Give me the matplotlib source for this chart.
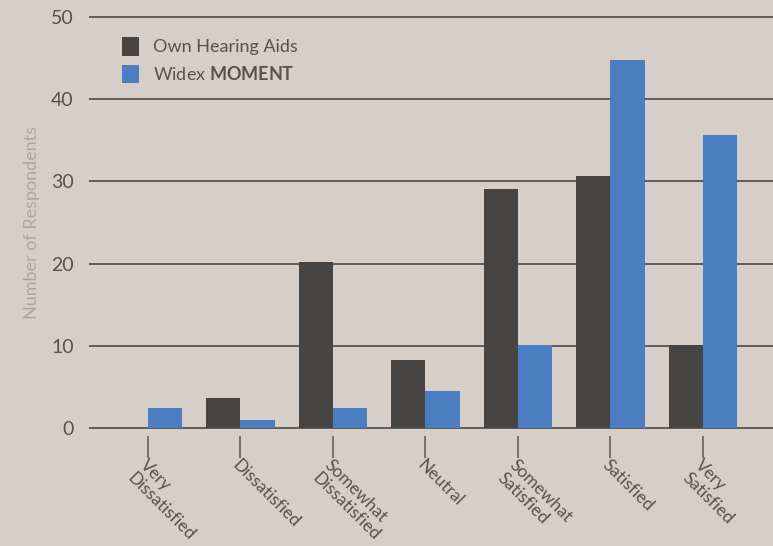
import numpy as np
import matplotlib
matplotlib.use("Agg")
import matplotlib.pyplot as plt

plt.rcParams['font.family'] = ['Lato', 'DejaVu Sans']
plt.rcParams['mathtext.fontset'] = 'custom'
plt.rcParams['mathtext.rm'] = 'Lato'
plt.rcParams['mathtext.bf'] = 'Lato:bold'

categories = ["Very\nDissatisfied", "Dissatisfied", "Somewhat\nDissatisfied", "Neutral",
              "Somewhat\nSatisfied", "Satisfied", "Very\nSatisfied"]
own_aids = [0, 3.6, 20.2, 8.3, 29.1, 30.7, 10.1]
widex_moment = [2.4, 1.0, 2.4, 4.5, 10.1, 44.8, 35.6]
yticks = [0, 10, 20, 30, 40, 50]

bg = '#d6cfc9'
dark = '#474543'
blue = '#4a7ec0'
text_col = '#555250'

fig = plt.figure(figsize=(7.73, 5.46), dpi=100, facecolor=bg)
ax = fig.add_axes([0.1151, 0.2011, 0.8849, 0.7828])
ax.set_facecolor(bg)

x = np.arange(len(categories))
w = 0.37
ax.bar(x, own_aids, width=-w, align='edge', color=dark, label="Own Hearing Aids", zorder=3)
ax.bar(x, widex_moment, width=w, align='edge', color=blue, label=r"Widex $\bf{MOMENT}$", zorder=3)

ax.set_xlim(-0.638, 6.757)
ax.set_ylim(-1, 51)
ax.set_yticks(yticks)
ax.set_yticklabels([str(v) for v in yticks], fontsize=14, color=text_col)
ax.tick_params(axis='y', length=0, pad=11)
for v in yticks:
    ax.axhline(v, color='#4a4846', lw=1.2, zorder=2)

ax.set_xticks(x)
ax.set_xticklabels(categories, rotation=-45, ha='left', va='top', rotation_mode='anchor',
                   fontsize=12.5, color=text_col, linespacing=1.15)
ax.tick_params(axis='x', length=16, width=1.3, color='#6b6866', pad=-1)

for s in ax.spines.values():
    s.set_visible(False)

ax.set_ylabel("Number of Respondents", fontsize=13, color='#aba6a0', labelpad=8)

leg = ax.legend(loc='upper left', bbox_to_anchor=(0.025, 0.972), frameon=False, fontsize=13,
                handlelength=0.95, handleheight=1.2, handletextpad=0.75, labelspacing=0.5)
for t in leg.get_texts():
    t.set_color(text_col)

fig.savefig("out.png", dpi=100, facecolor=bg)
